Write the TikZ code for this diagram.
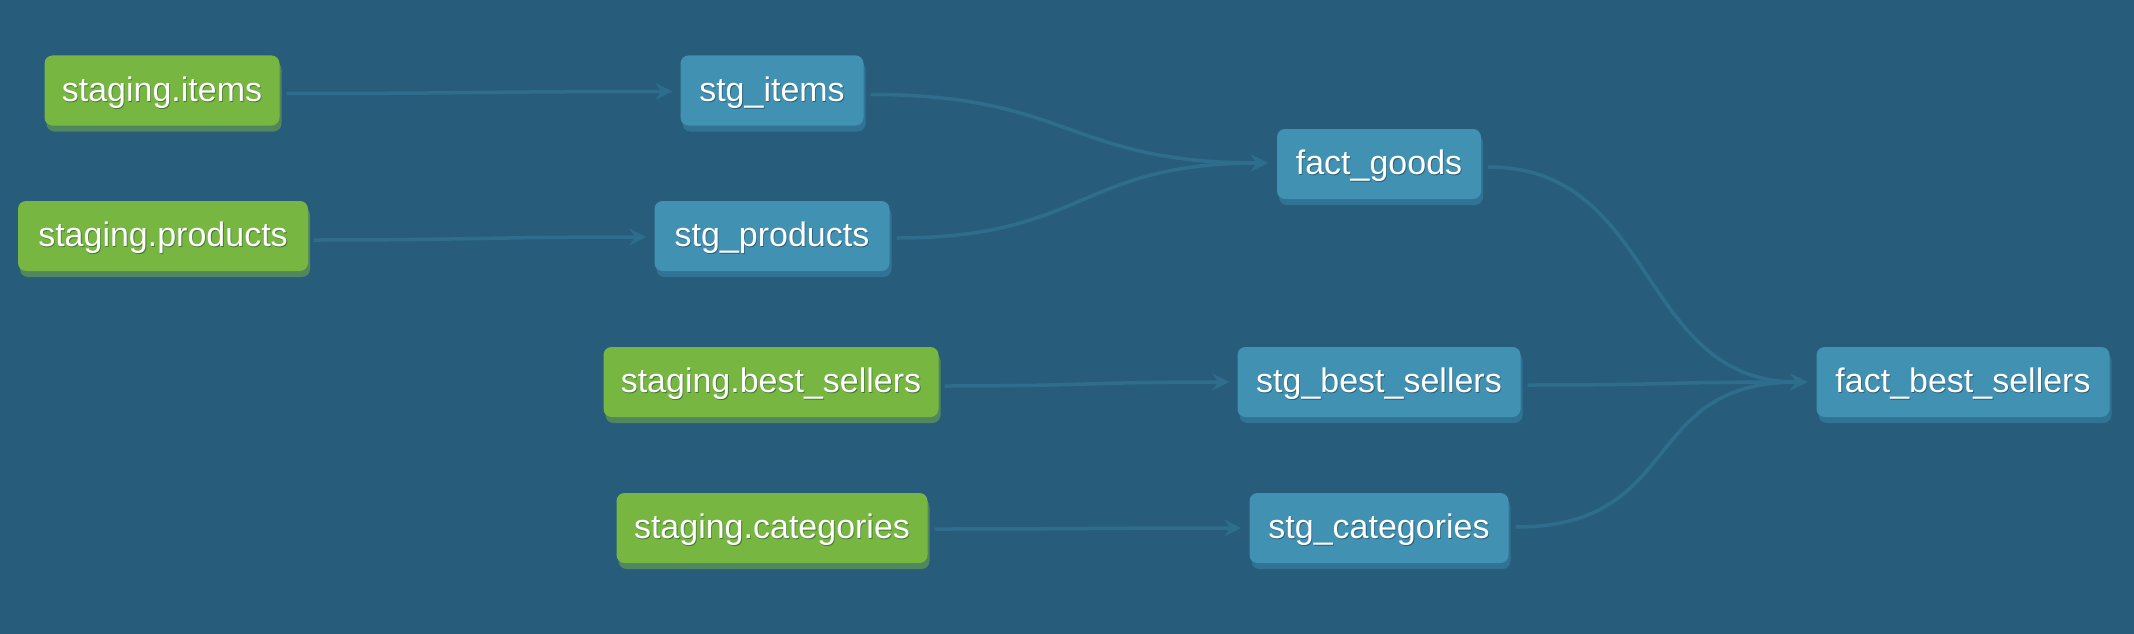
\documentclass[tikz,border=0pt]{standalone}
\usepackage{fontspec}
\setmainfont{Liberation Sans}
\usetikzlibrary{arrows.meta}
\definecolor{bgc}{RGB}{39,93,122}
\definecolor{greenc}{RGB}{118,182,65}
\definecolor{greensh}{RGB}{80,135,94}
\definecolor{greentx}{RGB}{70,120,50}
\definecolor{bluec}{RGB}{65,145,179}
\definecolor{bluesh}{RGB}{48,115,148}
\definecolor{bluetx}{RGB}{40,95,120}
\definecolor{edgec}{RGB}{47,109,140}
\newcommand{\shtx}[2]{\rlap{\hspace{0.8pt}\raisebox{-1.4pt}{\color{#1}#2}}#2}
\tikzset{
  box/.style={rounded corners=8pt, minimum height=70pt, inner sep=0pt,
    text height=28pt, text depth=7pt,
    text=white, font=\fontsize{34}{40}\selectfont},
  srcbox/.style={box, fill=greenc, drop shadow green},
  mdlbox/.style={box, fill=bluec, drop shadow blue},
  drop shadow green/.style={preaction={fill=greensh, transform canvas={shift={(2pt,-6pt)}}}},
  drop shadow blue/.style={preaction={fill=bluesh, transform canvas={shift={(2pt,-6pt)}}}},
  edge/.style={draw=edgec, line width=3.5pt, -{Stealth[length=17pt,width=17pt,inset=6pt]}},
}
\begin{document}
\begin{tikzpicture}[x=1pt,y=-1pt]
\fill[bgc] (0,0) rectangle (2134,634);
\useasboundingbox (0,0) rectangle (2134,634);
% sources
\node[srcbox, minimum width=235pt] (si) at (162,90.5) {\shtx{greentx}{staging.items}};
\node[srcbox, minimum width=290pt] (sp) at (163,236) {\shtx{greentx}{staging.products}};
\node[srcbox, minimum width=335pt] (sbs) at (771,382) {\shtx{greentx}{staging.best\_sellers}};
\node[srcbox, minimum width=311pt] (sc) at (772,528) {\shtx{greentx}{staging.categories}};
% models
\node[mdlbox, minimum width=183pt] (stgi) at (772,90.5) {\shtx{bluetx}{stg\_items}};
\node[mdlbox, minimum width=235pt] (stgp) at (772,236) {\shtx{bluetx}{stg\_products}};
\node[mdlbox, minimum width=204pt] (fg) at (1379,164) {\shtx{bluetx}{fact\_goods}};
\node[mdlbox, minimum width=283pt] (stgbs) at (1379,382) {\shtx{bluetx}{stg\_best\_sellers}};
\node[mdlbox, minimum width=259pt] (stgc) at (1379,528) {\shtx{bluetx}{stg\_categories}};
\node[mdlbox, minimum width=293pt] (fbs) at (1963,382) {\shtx{bluetx}{fact\_best\_sellers}};
% edges
\draw[edge] ([xshift=7pt,yshift=-3pt]si.east) .. controls +(190,0) and +(-190,0) .. ([xshift=-8pt,yshift=-1pt]stgi.west);
\draw[edge] ([xshift=6pt,yshift=-4pt]sp.east) .. controls +(160,0) and +(-160,0) .. ([xshift=-8pt,yshift=-1pt]stgp.west);
\draw[edge] ([xshift=6pt,yshift=-4pt]sbs.east) .. controls +(140,0) and +(-140,0) .. ([xshift=-8pt,yshift=0pt]stgbs.west);
\draw[edge] ([xshift=7pt,yshift=-1pt]sc.east) .. controls +(150,0) and +(-150,0) .. ([xshift=-8pt,yshift=0pt]stgc.west);
\draw[edge] ([xshift=7pt,yshift=-4pt]stgi.east) .. controls +(200,0) and +(-200,0) .. ([xshift=-9pt,yshift=1pt]fg.west);
\draw[edge] ([xshift=7pt,yshift=-2pt]stgp.east) .. controls +(190,0) and +(-190,0) .. ([xshift=-9pt,yshift=1pt]fg.west);
\draw[edge] ([xshift=7pt,yshift=-3pt]fg.east) .. controls +(170,0) and +(-170,0) .. ([xshift=-9pt,yshift=0pt]fbs.west);
\draw[edge] ([xshift=7pt,yshift=-3pt]stgbs.east) .. controls +(150,0) and +(-150,0) .. ([xshift=-9pt,yshift=0pt]fbs.west);
\draw[edge] ([xshift=7pt,yshift=1pt]stgc.east) .. controls +(170,0) and +(-170,0) .. ([xshift=-9pt,yshift=0pt]fbs.west);
\end{tikzpicture}
\end{document}
